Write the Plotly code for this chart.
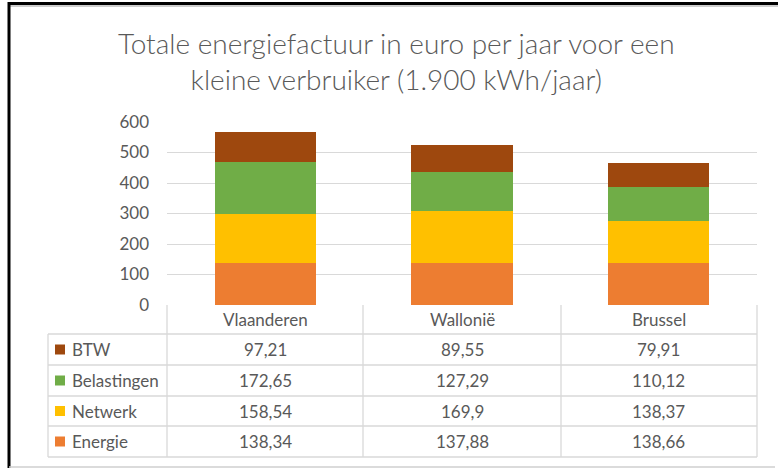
import plotly.graph_objects as go

W, H = 778, 468

categories = ["Vlaanderen", "Wallonië", "Brussel"]
energie = [138.34, 137.88, 138.66]
netwerk = [158.54, 169.9, 138.37]
belastingen = [172.65, 127.29, 110.12]
btw = [97.21, 89.55, 79.91]
y_ticks = [0, 100, 200, 300, 400, 500, 600]
title_text = "Totale energiefactuur in euro per jaar voor een<br>kleine verbruiker (1.900 kWh/jaar)"

series = [
    ("Energie", energie, "#ED7D31"),
    ("Netwerk", netwerk, "#FFC000"),
    ("Belastingen", belastingen, "#70AD47"),
    ("BTW", btw, "#9E480E"),
]

FONT = "Lato"
TXT = "#595959"
GRID = "#d9d9d9"
FS = 17


def px(x):
    return x / W


def py(y):
    return 1 - y / H


fig = go.Figure()
for name, vals, col in series:
    fig.add_trace(go.Bar(x=categories, y=vals, name=name, marker_color=col,
                         marker_line_width=0, showlegend=False))

x_left = 48
col_edges = [167, 363, 561, 757]
row_edges = [305, 334, 365, 396, 426, 457]

shapes = []
for xe in col_edges:
    shapes.append(dict(type="line", xref="paper", yref="paper",
                       x0=px(xe), x1=px(xe), y0=py(305), y1=py(457),
                       line=dict(color=GRID, width=1.3)))
shapes.append(dict(type="line", xref="paper", yref="paper",
                   x0=px(x_left), x1=px(x_left), y0=py(334), y1=py(457),
                   line=dict(color=GRID, width=1.3)))
for ye in row_edges[1:]:
    shapes.append(dict(type="line", xref="paper", yref="paper",
                       x0=px(x_left), x1=px(757), y0=py(ye), y1=py(ye),
                       line=dict(color=GRID, width=1.3)))
# outer frame
shapes.append(dict(type="line", xref="paper", yref="paper",
                   x0=px(8), x1=1, y0=py(3.5), y1=py(3.5),
                   line=dict(color="#000000", width=3)))
shapes.append(dict(type="line", xref="paper", yref="paper",
                   x0=px(10), x1=1, y0=py(6), y1=py(6),
                   line=dict(color="#bdbdbd", width=1.5)))
shapes.append(dict(type="line", xref="paper", yref="paper",
                   x0=px(9), x1=px(9), y0=py(2), y1=0,
                   line=dict(color="#000000", width=3)))
shapes.append(dict(type="line", xref="paper", yref="paper",
                   x0=px(9), x1=px(775), y0=py(467), y1=py(467),
                   line=dict(color="#cfcfcf", width=1.3)))

annotations = [dict(x=px(396), xref="paper", y=py(61), yref="paper",
                    text=title_text, showarrow=False, xanchor="center",
                    yanchor="middle", align="center",
                    font=dict(family=FONT, size=28, color=TXT, weight=300))]
for c in categories:
    annotations.append(dict(x=c, xref="x", y=py(319.5), yref="paper",
                            text=c, showarrow=False, xanchor="center",
                            yanchor="middle",
                            font=dict(family=FONT, size=FS, color=TXT)))

table_rows = list(reversed(series))  # BTW on top
for i, (name, vals, col) in enumerate(table_rows):
    yc = (row_edges[i + 1] + row_edges[i + 2]) / 2
    shapes.append(dict(type="rect", xref="paper", yref="paper",
                       x0=px(55), x1=px(65), y0=py(yc - 5), y1=py(yc + 5),
                       fillcolor=col, line=dict(width=0)))
    annotations.append(dict(x=px(70), xref="paper", y=py(yc), yref="paper",
                            text=name, showarrow=False, xanchor="left",
                            yanchor="middle",
                            font=dict(family=FONT, size=FS, color=TXT)))
    for c, v in zip(categories, vals):
        s = ("%g" % round(v, 2)).replace(".", ",")
        annotations.append(dict(x=c, xref="x", y=py(yc), yref="paper",
                                text=s, showarrow=False, xanchor="center",
                                yanchor="middle",
                                font=dict(family=FONT, size=FS, color=TXT)))

fig.update_layout(
    width=W, height=H,
    margin=dict(l=0, r=0, t=0, b=0, pad=0, autoexpand=False),
    paper_bgcolor="white", plot_bgcolor="white",
    showlegend=False,
    barmode="stack", bargap=0.485,
    xaxis=dict(domain=[px(167), px(757)], range=[-0.5, 2.5],
               showticklabels=False, showgrid=False, zeroline=False,
               showline=False, ticks=""),
    yaxis=dict(domain=[py(305), py(122)], range=[0, 600], tickvals=y_ticks,
               showgrid=True, gridcolor=GRID, gridwidth=1.3, zeroline=False,
               showline=False, ticks="", ticklabelstandoff=17,
               tickfont=dict(family=FONT, size=FS, color=TXT)),
    shapes=shapes, annotations=annotations,
)

fig.write_html("out.html", config={"displayModeBar": False},
               post_script="document.body.style.margin='0';document.body.style.padding='0';")
